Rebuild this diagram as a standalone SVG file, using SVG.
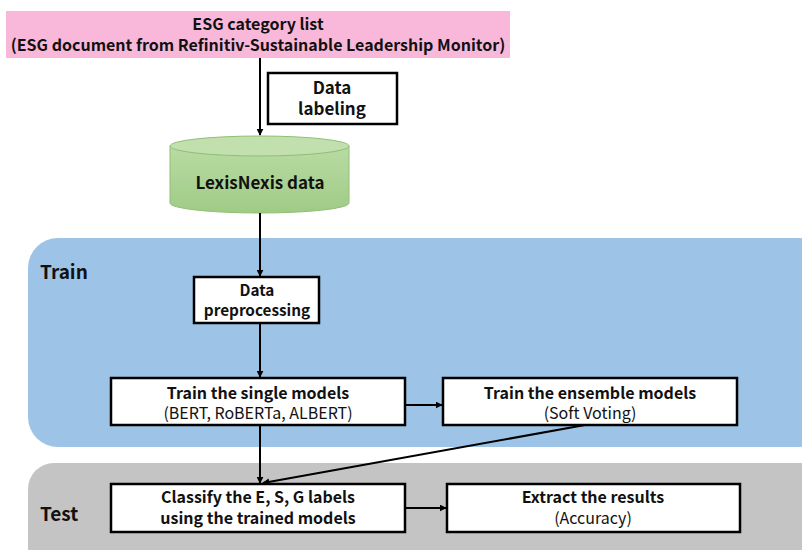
<svg xmlns="http://www.w3.org/2000/svg" width="802" height="550" viewBox="0 0 802 550">
  <defs>
    <marker id="arrow" viewBox="0 0 10 10" refX="9" refY="5" markerWidth="7" markerHeight="7" orient="auto" markerUnits="userSpaceOnUse">
      <path d="M0,0 L10,5 L0,10 z" fill="#000"/>
    </marker>
    <linearGradient id="cyl" x1="0" y1="0" x2="0" y2="1">
      <stop offset="0" stop-color="#b8dba3"/>
      <stop offset="1" stop-color="#a0cb86"/>
    </linearGradient>
  </defs>
  <style>
    text { font-family: "Noto Sans CJK KR", "Noto Sans", sans-serif; fill: #111; text-anchor: middle; }
    .b { font-weight: bold; }
    .box { fill: #fff; stroke: #000; stroke-width: 2.5; }
    .conn { stroke: #000; stroke-width: 2; fill: none; marker-end: url(#arrow); }
    .t16 { font-size: 16px; }
    .t17 { font-size: 17px; }
  </style>

  <!-- phase regions -->
  <g id="region-train">
    <rect x="28" y="238" width="800" height="209" rx="30" fill="#9dc3e6"/>
    <text x="40" y="279" class="b" font-size="19" style="text-anchor:start">Train</text>
  </g>
  <g id="region-test">
    <rect x="28" y="463" width="800" height="110" rx="26" fill="#c4c4c4"/>
    <text x="40" y="521" class="b" font-size="19" style="text-anchor:start">Test</text>
  </g>

  <g id="source">
    <rect x="6" y="11" width="504" height="47" fill="#f9b8da"/>
    <text x="258" y="30" class="b t16">ESG category list</text>
    <text x="258" y="51" class="b t16">(ESG document from Refinitiv-Sustainable Leadership Monitor)</text>
  </g>

  <g id="labeling">
    <rect x="268" y="73" width="129" height="51" class="box"/>
    <text x="332" y="94" class="b t17">Data</text>
    <text x="332" y="115" class="b t17">labeling</text>
  </g>

  <g id="lexisnexis">
    <path d="M170,146 L170,203 A89.5,10 0 0 0 349,203 L349,146 Z" fill="url(#cyl)" stroke="#8fbf76" stroke-width="1"/>
    <ellipse cx="259.5" cy="146" rx="89.5" ry="10" fill="#c2e0ae" stroke="#8fbf76" stroke-width="1"/>
    <text x="260" y="189" class="b t17">LexisNexis data</text>
  </g>

  <g id="preprocessing">
    <rect x="194" y="277" width="125" height="46" class="box"/>
    <text x="257" y="296" class="b" font-size="15.3">Data</text>
    <text x="257" y="316" class="b" font-size="15.3">preprocessing</text>
  </g>

  <g id="single">
    <rect x="111" y="378" width="294" height="47" class="box"/>
    <text x="258" y="399" class="b t16">Train the single models</text>
    <text x="258" y="419" class="t16">(BERT, RoBERTa, ALBERT)</text>
  </g>

  <g id="ensemble">
    <rect x="443" y="378" width="294" height="47" class="box"/>
    <text x="590" y="399" class="b t16">Train the ensemble models</text>
    <text x="590" y="419" class="t16">(Soft Voting)</text>
  </g>

  <g id="classify">
    <rect x="111" y="484" width="294" height="48" class="box"/>
    <text x="258" y="503" class="b t16">Classify the E, S, G labels</text>
    <text x="258" y="524" class="b t16">using the trained models</text>
  </g>

  <g id="extract">
    <rect x="447" y="484" width="293" height="48" class="box"/>
    <text x="593" y="503" class="b t16">Extract the results</text>
    <text x="593" y="524" class="t16">(Accuracy)</text>
  </g>

  <g id="connectors">
    <line x1="260" y1="58" x2="260" y2="135" class="conn"/>
    <line x1="260" y1="213" x2="260" y2="276" class="conn"/>
    <line x1="260" y1="323" x2="260" y2="377" class="conn"/>
    <line x1="405" y1="405" x2="442" y2="405" class="conn"/>
    <line x1="260" y1="425" x2="260" y2="483" class="conn"/>
    <line x1="585" y1="425" x2="263" y2="483" class="conn"/>
    <line x1="405" y1="508" x2="446" y2="508" class="conn"/>
  </g>
</svg>
